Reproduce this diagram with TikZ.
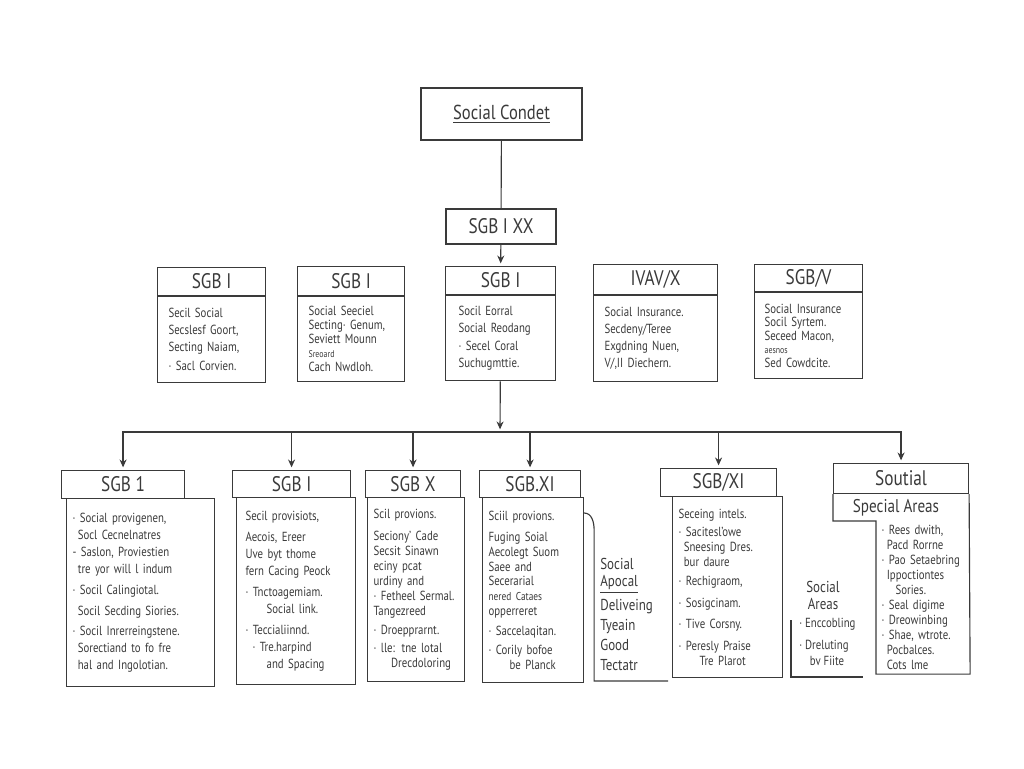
\documentclass[tikz,border=0pt]{standalone}
\usepackage{fontspec}
\setmainfont{PT Sans}[FakeStretch=0.82]
\usepackage{xcolor}
\usetikzlibrary{arrows.meta,positioning}
\definecolor{ink}{HTML}{3A3A3A}

\begin{document}
\begin{tikzpicture}[x=0.02cm, y=-0.02cm, color=ink,
    title/.style={draw, line width=0.7pt, minimum width=3.22cm, minimum height=1.04cm, font=\fontsize{11.5}{13}\selectfont},
    hdr/.style={draw, line width=0.65pt, inner sep=0pt, font=\fontsize{12}{14}\selectfont},
    body/.style={draw, line width=0.65pt, align=left, inner xsep=0.12cm, inner ysep=0pt},
    lines/.style={font=\fontsize{7.5}{#1}\selectfont},
    note/.style={align=left, inner sep=0pt},
    link/.style={line width=0.65pt},
    arrow/.style={link, -{Stealth[length=4.5pt,width=4pt]}, shorten >=1.5pt}
]
\useasboundingbox (0,0) rectangle (1024,768);

% Top of the tree
\node[title] (cond) at (501.5,114) {\underline{Social Condet}};
\node[hdr, minimum width=2.2cm, minimum height=0.7cm] (sgbxx) at (501,226.5) {SGB I XX};

% Second row
\node[hdr, anchor=north west, minimum width=2.16cm, minimum height=0.56cm] (a1h) at (157,267) {SGB I};
\node[body, below=0pt of a1h, inner xsep=0.22cm, text width=1.72cm, minimum height=1.72cm, lines=9.6pt] (a1b)
  {Secil Social\\Secslesf Goort,\\Secting Naiam,\\[1.5pt]· Sacl Corvien.};

\node[hdr, anchor=north west, minimum width=2.14cm, minimum height=0.58cm] (a2h) at (297,266) {SGB I};
\node[body, below=0pt of a2h, inner xsep=0.22cm, text width=1.7cm, minimum height=1.7cm, lines=8pt] (a2b)
  {Social Seeciel\\Secting· Genum,\\Seviett Mounn\\{\fontsize{5.5}{8}\selectfont Sreoard}\\Cach Nwdloh.};

\node[hdr, anchor=north west, minimum width=2.2cm, minimum height=0.56cm] (a3h) at (445,266) {SGB I};
\node[body, below=0pt of a3h, inner xsep=0.26cm, text width=1.68cm, minimum height=1.7cm, lines=10pt] (a3b)
  {Socil Eorral\\Social Reodang\\· Secel Coral\\Suchugmttie.};

\node[hdr, anchor=north west, minimum width=2.48cm, minimum height=0.6cm] (a4h) at (593,264) {IVAV/X};
\node[body, below=0pt of a4h, inner xsep=0.22cm, text width=2.04cm, minimum height=1.72cm, lines=9.7pt] (a4b)
  {Social Insurance.\\Secdeny/Teree\\Exgdning Nuen,\\V/,II Diechern.};

\node[hdr, anchor=north west, minimum width=2.16cm, minimum height=0.54cm] (a5h) at (754,264) {SGB/V};
\node[body, below=0pt of a5h, inner xsep=0.2cm, text width=1.76cm, minimum height=1.72cm, lines=7.6pt] (a5b)
  {Social~Insurance\\Socil Syrtem.\\Seceed Macon,\\{\fontsize{5.5}{7}\selectfont aesnos}\\Sed Cowdcite.};

% Third row
\node[hdr, anchor=north west, minimum width=2.46cm, minimum height=0.56cm] (g1h) at (61,470) {SGB 1};
\node[body, anchor=north west, text width=2.72cm, minimum height=3.76cm, lines=9.6pt] (g1b) at (66,498)
  {· Social provigenen,\\
   \hspace*{3pt}Socl Cecnelnatres\\
   - Saslon, Proviestien\\
   \hspace*{3pt}tre yor will l indum\\[2.5pt]
   · Socil Calingiotal.\\[2.5pt]
   \hspace*{3pt}Socil Secding Siories.\\[1.5pt]
   · Socil~Inrerreingstene.\\
   \hspace*{3pt}Sorectiand to fo fre\\
   \hspace*{3pt}hal and Ingolotian.};

\node[hdr, anchor=north west, minimum width=2.36cm, minimum height=0.54cm] (g2h) at (232,470) {SGB I};
\node[body, anchor=north west, inner xsep=0.18cm, text width=2.02cm, minimum height=3.74cm, lines=9.7pt] (g2b) at (236,497)
  {Secil provisiots,\\[2.5pt]
   Aecois, Ereer\\
   Uve byt thome\\
   fern~Cacing~Peock\\[2pt]
   · Tnctoagemiam.\\
   \hspace*{12pt}Social link.\\[2pt]
   · Teccialiinnd.\\
   \hspace*{4pt}· Tre.harpind\\
   \hspace*{12pt}and Spacing};

\node[hdr, anchor=north west, minimum width=1.9cm, minimum height=0.54cm] (g3h) at (365,470) {SGB X};
\node[body, anchor=north west, text width=1.7cm, minimum height=3.68cm, lines=8.5pt] (g3b) at (367,497)
  {Scil provions.\\[4pt]
   Seciony' Cade\\
   Secsit Sinawn\\
   eciny pcat\\
   urdiny and\\
   · Fetheel~Sermal.\\
   Tangezreed\\[2.5pt]
   · Droepprarnt.\\[1.5pt]
   · lle: tne lotal\\
   \hspace*{10pt}Drecdoloring};

\node[hdr, anchor=north west, minimum width=2.02cm, minimum height=0.54cm] (g4h) at (479,470) {SGB.XI};
\node[body, anchor=north west, text width=1.78cm, minimum height=3.7cm, lines=8.5pt] (g4b) at (482,497)
  {Sciil provions.\\[3.4pt]
   Fuging Soial\\
   Aecolegt~Suom\\
   Saee and\\
   Secerarial\\
   {\fontsize{6.5}{8}\selectfont nered Cataes}\\
   opperreret\\[2.8pt]
   · Saccelaqitan.\\[2pt]
   · Corily bofoe\\
   \hspace*{12pt}be Planck};

\node[hdr, anchor=north west, minimum width=2.32cm, minimum height=0.56cm] (g5h) at (660,468) {SGB/XI};
\node[body, anchor=north west, text width=1.96cm, minimum height=3.62cm, lines=8.5pt] (g5b) at (672,496)
  {Seceing intels.\\[2pt]
   · Sacitesl'owe\\
   \hspace*{3pt}Sneesing~Dres.\\
   \hspace*{3pt}bur daure\\[2.3pt]
   · Rechigraom,\\[4pt]
   · Sosigcinam.\\[3.4pt]
   · Tive Corsny.\\[4pt]
   · Peresly~Praise\\
   \hspace*{12pt}Tre Plarot};

\node[hdr, anchor=north west, minimum width=2.7cm, minimum height=0.6cm] (g6h) at (833,463) {Soutial};
\node[note, font=\fontsize{10.5}{12}\selectfont] (g6s) at (896,508) {Special Areas};
\node[body, draw=none, anchor=north west, inner xsep=0.1cm, text width=1.66cm, minimum height=3.04cm, lines=8.5pt] (g6b) at (876,521)
  {· Rees dwith,\\
   \hspace*{3pt}Pacd Rorrne\\
   · Pao~Setaebring\\
   \hspace*{3pt}Ippoctiontes\\
   \hspace*{8pt}Sories.\\
   · Seal digime\\
   · Dreowinbing\\
   · Shae, wtrote.\\
   \hspace*{3pt}Pocbalces.\\
   \hspace*{3pt}Cots lme};
\draw[link] (g6h.south west) |- (g6b.north west) -- (g6b.south west) -- (g6b.south east) -- (g6h.south east);

% Side notes
\node[note, anchor=north west, font=\fontsize{9}{11.4}\selectfont] (apoc) at (600,558)
  {Social\\[-1.7pt]\underline{Apocal}\\[2pt]Deliveing\\Tyeain\\Good\\Tectatr};
\coordinate (k1) at ([yshift=-0.32cm]g4b.north east);
\draw[link] (k1) to[out=0,in=90] ++(10,17) -- ++(0,151) -- ++(74,0);

\node[note, align=center, font=\fontsize{9}{9.7}\selectfont] (sa) at (823,595) {Social\\Areas};
\node[note, anchor=north west, font=\fontsize{7.5}{9}\selectfont] (san) at (799,618)
  {· Enccobling\\[3.5pt]· Dreluting\\\hspace*{6pt}bv Fiite};
\draw[link] (791,620) -- (791,677) -- (863,677);

% Connectors
\coordinate (bus) at (500,432);
\draw[link] (cond) -- (sgbxx);
\draw[arrow] (sgbxx) -- (a3h);
\draw[arrow] (a3b) -- (bus);
\foreach \n in {g1h,g2h,g3h,g4h,g5h,g6h}
  \draw[arrow] (bus) -| (\n);

\end{tikzpicture}
\end{document}
